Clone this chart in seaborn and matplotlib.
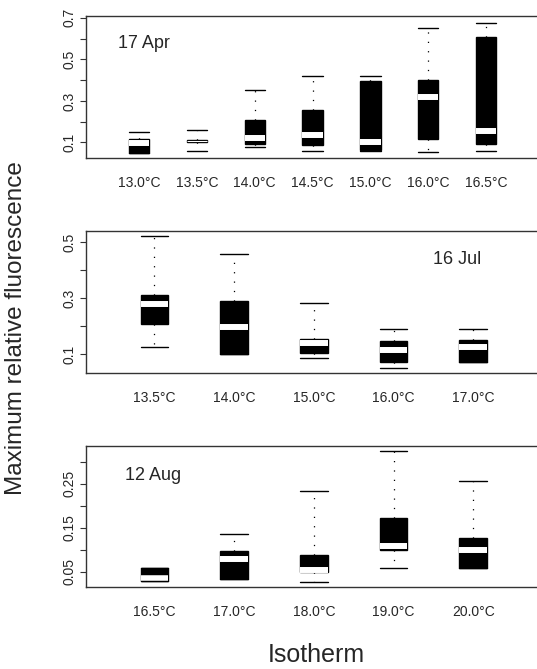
import numpy as np
import pandas as pd
import matplotlib
matplotlib.use("Agg")
import matplotlib.pyplot as plt
from matplotlib.colors import to_rgba
import seaborn as sns

# ---- data (five-number summaries) ----
apr_labels = ["13.0°C", "13.5°C", "14.0°C", "14.5°C", "15.0°C", "16.0°C", "16.5°C"]
apr_lo  = [0.049, 0.057, 0.076, 0.057, 0.060, 0.052, 0.057]
apr_q1  = [0.050, 0.103, 0.094, 0.086, 0.065, 0.116, 0.094]
apr_med = [0.095, 0.108, 0.121, 0.135, 0.100, 0.318, 0.153]
apr_q3  = [0.116, 0.113, 0.209, 0.254, 0.398, 0.400, 0.610]
apr_hi  = [0.148, 0.158, 0.353, 0.420, 0.420, 0.650, 0.677]

jul_labels = ["13.5°C", "14.0°C", "15.0°C", "16.0°C", "17.0°C"]
jul_lo  = [0.126, 0.100, 0.085, 0.051, 0.071]
jul_q1  = [0.207, 0.100, 0.105, 0.071, 0.071]
jul_med = [0.279, 0.198, 0.139, 0.115, 0.124]
jul_q3  = [0.312, 0.288, 0.155, 0.148, 0.150]
jul_hi  = [0.521, 0.456, 0.283, 0.189, 0.189]

aug_labels = ["16.5°C", "17.0°C", "18.0°C", "19.0°C", "20.0°C"]
aug_lo  = [0.030, 0.035, 0.027, 0.059, 0.060]
aug_q1  = [0.030, 0.035, 0.049, 0.100, 0.060]
aug_med = [0.036, 0.079, 0.055, 0.110, 0.101]
aug_q3  = [0.058, 0.097, 0.088, 0.173, 0.128]
aug_hi  = [0.059, 0.136, 0.233, 0.324, 0.256]

panel_titles = ["17 Apr", "16 Jul", "12 Aug"]


def build_frame(labels, lo, q1, med, q3, hi):
    rows = []
    for i, lab in enumerate(labels):
        for v in (lo[i], q1[i], med[i], q3[i], hi[i]):
            rows.append({"iso": lab, "val": v})
    return pd.DataFrame(rows)


sns.set_style("white")
plt.rcParams["font.family"] = ["Liberation Sans", "DejaVu Sans"]

fig = plt.figure(figsize=(5.37, 6.69), dpi=100)

panels = [
    dict(df=build_frame(apr_labels, apr_lo, apr_q1, apr_med, apr_q3, apr_hi), labels=apr_labels,
         q1=apr_q1, q3=apr_q3,
         rect=[0.160, 0.7638, 0.840, 0.2123], ylim=(0.025, 0.709), xlim=(-0.917, 6.88),
         major=[0.1, 0.3, 0.5, 0.7], minor=[0.2, 0.4, 0.6], fmt="{:.1f}",
         title_xy=(118, 43)),
    dict(df=build_frame(jul_labels, jul_lo, jul_q1, jul_med, jul_q3, jul_hi), labels=jul_labels,
         q1=jul_q1, q3=jul_q3,
         rect=[0.160, 0.4425, 0.840, 0.2123], ylim=(0.033, 0.539), xlim=(-0.86, 4.80),
         major=[0.1, 0.3, 0.5], minor=[0.2, 0.4], fmt="{:.1f}",
         title_xy=(433, 260)),
    dict(df=build_frame(aug_labels, aug_lo, aug_q1, aug_med, aug_q3, aug_hi), labels=aug_labels,
         q1=aug_q1, q3=aug_q3,
         rect=[0.160, 0.1226, 0.840, 0.2108], ylim=(0.016, 0.336), xlim=(-0.86, 4.80),
         major=[0.05, 0.15, 0.25], minor=[0.10, 0.20, 0.30], fmt="{:.2f}",
         title_xy=(125, 476)),
]

W, H = 537, 669
MED_LW = 4.3
white = to_rgba("white")
for p, title in zip(panels, panel_titles):
    ax = fig.add_axes(p["rect"])
    sns.boxplot(data=p["df"], x="iso", y="val", order=p["labels"], ax=ax,
                width=0.35, color="black", linecolor="black", linewidth=1.0,
                saturation=1, whis=(0, 100), showfliers=False,
                medianprops=dict(color="white", linewidth=MED_LW, solid_capstyle="butt"),
                whiskerprops=dict(linestyle=(0, (1, 6.5)), linewidth=0.9),
                capprops=dict(linewidth=1.0),
                capwidths=0.35)
    ax.set_xlim(*p["xlim"])
    ax.set_ylim(*p["ylim"])
    # thin the median band where the box itself is very thin
    ax_h_pt = p["rect"][3] * 6.69 * 72
    yr = p["ylim"][1] - p["ylim"][0]
    meds = [ln for ln in ax.lines if to_rgba(ln.get_color()) == white]
    for ln, a, b in zip(meds, p["q1"], p["q3"]):
        h_pt = (b - a) / yr * ax_h_pt
        ln.set_linewidth(min(MED_LW, max(0.8, 0.45 * h_pt)))
    ax.set_xlabel("")
    ax.set_ylabel("")
    ax.set_yticks(p["major"])
    ax.set_yticks(p["minor"], minor=True)
    ax.set_yticklabels([p["fmt"].format(v) for v in p["major"]], rotation=90, va="center")
    ax.tick_params(axis="y", which="both", direction="out", length=4.5, width=0.8,
                   color="#333333", labelsize=10, pad=2, left=True)
    ax.tick_params(axis="x", length=0, labelsize=10, pad=13)
    for side in ("top", "left", "bottom"):
        ax.spines[side].set_visible(True)
        ax.spines[side].set_color("#333333")
        ax.spines[side].set_linewidth(1.0)
    ax.spines["right"].set_visible(False)
    ax.grid(False)
    tx, ty = p["title_xy"]
    fig.text(tx / W, 1 - ty / H, title, fontsize=13, ha="left", va="center")

fig.text(16 / W, 1 - 328 / H, "Maximum relative fluorescence", rotation=90,
         fontsize=17.5, ha="center", va="center")
fig.text(316 / W, 1 - 655 / H, "Isotherm", fontsize=18, ha="center", va="center")

fig.savefig("out.png", dpi=100)
